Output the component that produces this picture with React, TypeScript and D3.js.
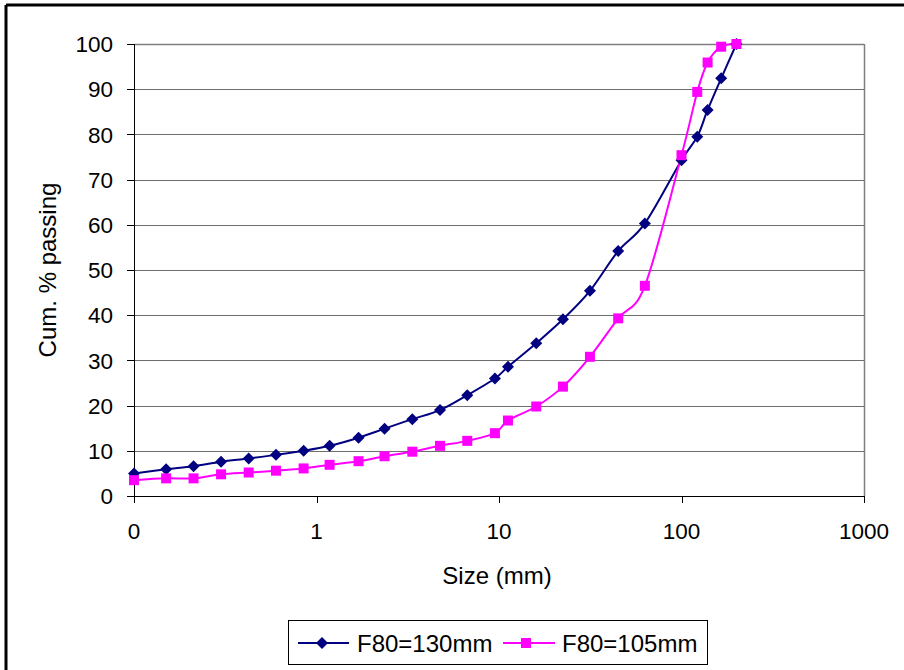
import React from "react";
import * as d3 from "d3";

const sizes = [0.1, 0.15, 0.212, 0.3, 0.425, 0.6, 0.85, 1.18, 1.7, 2.36, 3.35, 4.75, 6.7, 9.5, 11.2, 16, 22.4, 31.5, 45, 63, 100, 122, 139, 165, 200];
const f80_130 = [5.0, 5.9, 6.6, 7.6, 8.3, 9.1, 10.0, 11.1, 12.9, 14.9, 17.0, 19.0, 22.3, 26.0, 28.6, 33.8, 39.1, 45.4, 54.2, 60.3, 74.3, 79.5, 85.4, 92.4, 100];
const f80_105 = [3.5, 3.9, 3.9, 4.8, 5.2, 5.6, 6.1, 6.9, 7.7, 8.8, 9.8, 11.1, 12.2, 13.9, 16.7, 19.8, 24.2, 30.8, 39.3, 46.5, 75.4, 89.4, 95.9, 99.4, 100];
const xTicks = [0.1, 1, 10, 100, 1000];
const xTickLabels = ["0", "1", "10", "100", "1000"];
const yTicks = [0, 10, 20, 30, 40, 50, 60, 70, 80, 90, 100];
const seriesNames = ["F80=130mm", "F80=105mm"];
const seriesColors = ["#000080", "#FF00FF"];

const W = 904, H = 670;
const L = 134, R = 864, T = 44, B = 496;
const FONT = "'Liberation Sans', Arial, sans-serif";

export default function App() {
  const x = d3.scaleLog().domain([0.1, 1000]).range([L, R]);
  const y = d3.scaleLinear().domain([0, 100]).range([B, T]);
  const line = d3
    .line<number>()
    .x((_, i) => x(sizes[i]))
    .y((d) => y(d))
    .curve(d3.curveCardinal.tension(0));
  const datasets = [f80_130, f80_105];

  const diamond = (cx: number, cy: number, r: number) =>
    `M${cx},${cy - r}L${cx + r},${cy}L${cx},${cy + r}L${cx - r},${cy}Z`;

  return (
    <svg width={W} height={H} style={{ position: "absolute", left: 0, top: 0, background: "#fff" }} fontFamily={FONT}>
      {/* outer frame */}
      <line x1={6} y1={5} x2={W} y2={5} stroke="#000" strokeWidth={3} />
      <line x1={6} y1={5} x2={6} y2={H} stroke="#000" strokeWidth={3} />

      {/* gridlines */}
      {yTicks.slice(1).map((t) => (
        <line key={t} x1={L} x2={R} y1={Math.round(y(t)) + 0.5} y2={Math.round(y(t)) + 0.5} stroke="#6e6e6e" strokeWidth={1} />
      ))}
      {/* plot area border */}
      <line x1={R + 0.5} x2={R + 0.5} y1={T} y2={B} stroke="#808080" strokeWidth={1.5} />
      <line x1={L} x2={R} y1={T + 0.5} y2={T + 0.5} stroke="#808080" strokeWidth={1.5} />

      {/* axes */}
      <line x1={L + 0.5} x2={L + 0.5} y1={T} y2={B + 7} stroke="#000" strokeWidth={1} />
      <line x1={L - 7} x2={R} y1={B + 0.5} y2={B + 0.5} stroke="#000" strokeWidth={1} />
      {yTicks.map((t) => (
        <g key={t}>
          <line x1={L - 7} x2={L} y1={Math.round(y(t)) + 0.5} y2={Math.round(y(t)) + 0.5} stroke="#000" />
          <text x={113} y={y(t)} dy="0.36em" textAnchor="end" fontSize={22.5} fill="#000">
            {t}
          </text>
        </g>
      ))}
      {xTicks.map((t, i) => (
        <g key={t}>
          <line x1={Math.round(x(t)) + 0.5} x2={Math.round(x(t)) + 0.5} y1={B} y2={B + 7} stroke="#000" />
          <text x={x(t)} y={531} dy="0.36em" textAnchor="middle" fontSize={22.5} fill="#000">
            {xTickLabels[i]}
          </text>
        </g>
      ))}

      {/* axis titles */}
      <text x={497} y={575} dy="0.36em" textAnchor="middle" fontSize={24} fill="#000">
        Size (mm)
      </text>
      <text transform={`translate(47,270) rotate(-90)`} dy="0.36em" textAnchor="middle" fontSize={24} fill="#000">
        Cum. % passing
      </text>

      {/* series */}
      {datasets.map((data, si) => (
        <path key={si} d={line(data) || ""} fill="none" stroke={seriesColors[si]} strokeWidth={2} />
      ))}
      {f80_130.map((v, i) => (
        <path key={"d" + i} d={diamond(x(sizes[i]), y(v), 6)} fill={seriesColors[0]} />
      ))}
      {f80_105.map((v, i) => (
        <rect key={"s" + i} x={x(sizes[i]) - 5} y={y(v) - 5} width={10} height={10} fill={seriesColors[1]} />
      ))}

      {/* legend */}
      <rect x={288.5} y={620.5} width={419} height={44} fill="#fff" stroke="#000" strokeWidth={1} />
      <line x1={298} x2={349} y1={643} y2={643} stroke={seriesColors[0]} strokeWidth={2} />
      <path d={diamond(322, 643, 6)} fill={seriesColors[0]} />
      <text x={357} y={643} dy="0.36em" fontSize={24} fill="#000">
        {seriesNames[0]}
      </text>
      <line x1={503} x2={555} y1={643} y2={643} stroke={seriesColors[1]} strokeWidth={2} />
      <rect x={521} y={638} width={10} height={10} fill={seriesColors[1]} />
      <text x={562} y={643} dy="0.36em" fontSize={24} fill="#000">
        {seriesNames[1]}
      </text>
    </svg>
  );
}
